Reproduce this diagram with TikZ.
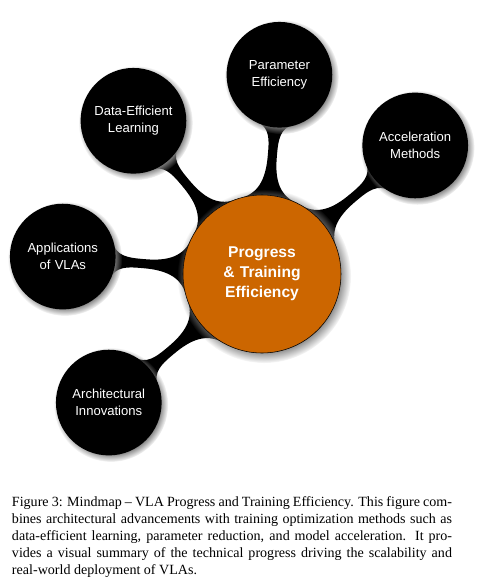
\documentclass[tikz,border=0pt]{standalone}
\usepackage{fontspec}
\setmainfont{Liberation Serif}
\setsansfont{Liberation Sans}
\tikzstyle{rootconcept}=[concept,fill=orange!80!black,draw=black,thin,
minimum size=3.95cm,text width=3.2cm,inner sep=0pt,circular drop shadow,
font=\sffamily\bfseries\fontsize{11.1}{14.2}\selectfont]
\tikzstyle{subconcept}=[concept,minimum size=2.6cm,text width=2.3cm,
inner sep=0pt,circular drop shadow,
font=\sffamily\fontsize{9.3}{12}\selectfont]
\tikzstyle{caption}=[rectangle,minimum size=0pt,anchor=north west,text=black,
text width=11cm,align=justify,inner sep=0pt,
font=\fontsize{10}{12}\selectfont]
\usetikzlibrary{mindmap,shadows,backgrounds,positioning}

\begin{document}
\begin{tikzpicture}[mindmap,concept color=black,text=white]
            \useasboundingbox (-6.55,6.85) rectangle (5.4,-7.8);

            % ROOT PART

            \node[rootconcept] (r0) at (0,0) {Progress\\ \& Training\\ Efficiency};

            % BRANCH PART

            \node[subconcept] (c1) at ([shift={(85:5cm)}]r0) {Parameter\\ Efficiency};
            \node[subconcept] (c2) at ([shift={(130:5cm)}]r0) {Data-Efficient\\ Learning};
            \node[subconcept] (c3) at ([shift={(40:5cm)}]r0) {Acceleration\\ Methods};
            \node[subconcept] (c4) at ([shift={(175:5cm)}]r0) {Applications\\ of VLAs};
            \node[subconcept] (c5) at ([shift={(220:5cm)}]r0) {Architectural\\ Innovations};

            \begin{pgfonlayer}{background}
            \path (r0) to[circle connection bar] (c1);
            \path (r0) to[circle connection bar] (c2);
            \path (r0) to[circle connection bar] (c3);
            \path (r0) to[circle connection bar] (c4);
            \path (r0) to[circle connection bar] (c5);
            \end{pgfonlayer}

            % CAPTION PART

            \node[caption] (cap) at (-6.25,-5.575)
            {Figure 3: Mindmap -- VLA Progress and Training Efficiency. This figure com-\linebreak
            bines architectural advancements with training optimization methods such as\linebreak
            data-efficient learning, parameter reduction, and model acceleration.  It pro-\linebreak
            vides a visual summary of the technical progress driving the scalability and\linebreak
            real-world deployment of VLAs.};

\end{tikzpicture}
\end{document}
